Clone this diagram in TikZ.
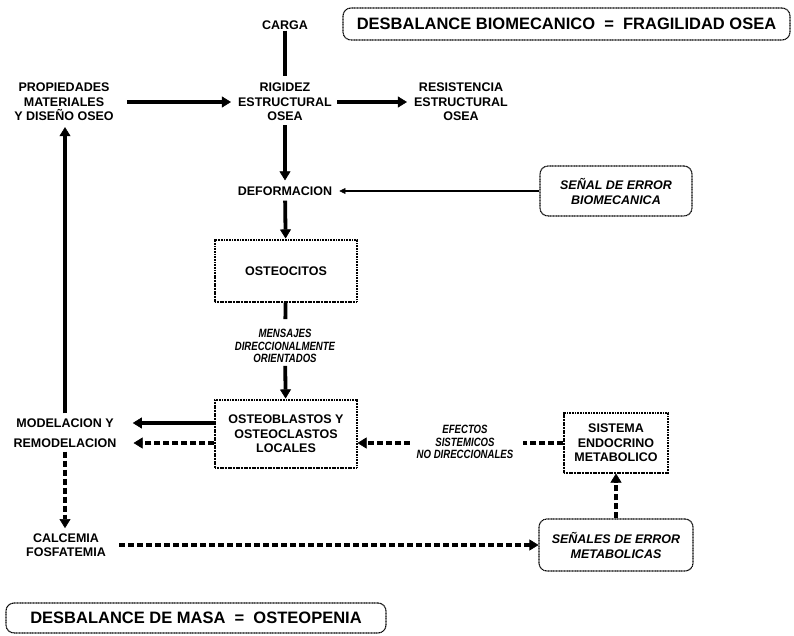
\documentclass[tikz,border=0pt]{standalone}
\usepackage{fontspec}
\setmainfont{Liberation Sans}
\newfontfamily\narrowfont[FakeStretch=0.8]{Liberation Sans}
\usetikzlibrary{arrows.meta}

\begin{document}
\begin{tikzpicture}[x=1pt,y=-1pt,
  txt/.style={font=\fontsize{12.5}{14.5}\selectfont\bfseries, align=center, inner sep=1pt},
  itx/.style={font=\fontsize{12.5}{15}\selectfont\bfseries\itshape, align=center, inner sep=1pt},
  nrw/.style={font=\narrowfont\fontsize{12}{12.5}\selectfont\bfseries\itshape, align=center, inner sep=1pt},
  head/.style={font=\fontsize{16.5}{18}\selectfont\bfseries, align=center},
  dotbox/.style={draw, line width=1.1pt, dash pattern=on 1.1pt off 0.5pt},
  sqbox/.style={dotbox, inner sep=0pt},
  rbox/.style={dotbox, rounded corners=8pt, inner sep=0pt},
  big/.style={line width=3.8pt},
  tip/.style={-{Triangle[length=9pt,width=11pt,line width=0.6pt]}},
  dsh/.style={line width=3.8pt, dash pattern=on 6pt off 3pt},
  fine/.style={line width=1.4pt, -{Triangle[length=6pt,width=6pt,line width=0.4pt]}}
]
\useasboundingbox (0,0) rectangle (794,636);

% headline boxes
\node[head, rbox, minimum width=447pt, minimum height=32pt] (fragil) at (566.5,24)
  {DESBALANCE BIOMECANICO \ = \ FRAGILIDAD OSEA};
\node[head, rbox, minimum width=380pt, minimum height=30pt] (masa) at (196,618)
  {DESBALANCE DE MASA \ = \ OSTEOPENIA};

% mechanical chain
\node[txt] (carga) at (285,25) {CARGA};
\node[txt] (rigidez) at (285,102) {RIGIDEZ\\ESTRUCTURAL\\OSEA};
\node[txt] (prop) at (64,102) {PROPIEDADES\\MATERIALES\\Y DISEÑO OSEO};
\node[txt] (resist) at (461,102) {RESISTENCIA\\ESTRUCTURAL\\OSEA};
\node[txt] (deform) at (285,191) {DEFORMACION};
\node[itx, rbox, minimum width=152pt, minimum height=50pt] (senal) at (616,191)
  {SEÑAL DE ERROR\\BIOMECANICA};
\node[txt, sqbox, minimum width=142pt, minimum height=62pt] (osteoc) at (286,271) {OSTEOCITOS};
\node[nrw] (mensajes) at (285,346) {MENSAJES\\DIRECCIONALMENTE\\ORIENTADOS};
\node[txt, sqbox, minimum width=142pt, minimum height=68pt] (osteob) at (286,434)
  {OSTEOBLASTOS Y\\OSTEOCLASTOS\\LOCALES};

% remodelling and metabolic loop
\node[txt] (model) at (65,423) {MODELACION Y};
\node[txt] (remodel) at (65,443) {REMODELACION};
\node[txt] (calc) at (66,545) {CALCEMIA\\FOSFATEMIA};
\node[txt, sqbox, minimum width=104pt, minimum height=60pt] (sistema) at (616,443)
  {SISTEMA\\ENDOCRINO\\METABOLICO};
\node[itx, rbox, minimum width=154pt, minimum height=52pt] (senales) at (616,545)
  {SEÑALES DE ERROR\\METABOLICAS};
\node[nrw] (efectos) at (465,442) {EFECTOS\\SISTEMICOS\\NO DIRECCIONALES};

% connectors
\draw[big, shorten >=6pt] (carga) -- (rigidez);
\draw[big, tip, shorten <=12pt, shorten >=6pt] (prop) -- (rigidez);
\draw[big, tip, shorten <=4pt, shorten >=6pt] (rigidez) -- (resist);
\draw[big, tip, shorten <=3pt, shorten >=5pt] (rigidez) -- (deform);
\draw[fine, shorten >=6pt] (senal) -- (deform);
\draw[big, tip, shorten <=4pt, shorten >=1pt] (deform) -- (osteoc);
\draw[big, shorten >=9pt] (osteoc) -- (mensajes);
\draw[big, tip, shorten <=2pt, shorten >=1pt] (mensajes) -- (osteob);
\draw[big, tip, shorten >=18pt] (osteob.west |- model) -- (model);
\draw[dsh, tip, shorten >=16pt] (osteob.west |- remodel) -- (remodel);
\draw[dsh, shorten >=9pt] (sistema.west) -- (efectos.east |- sistema.west);
\draw[dsh, tip, shorten <=6pt] (efectos.west |- sistema.west) -- (osteob.east |- sistema.west);
\draw[big, tip, shorten <=4pt, shorten >=5pt] (model.north) -- (model.north |- prop.south);
\draw[dsh, tip, shorten <=3pt, shorten >=4pt] (remodel.south) -- (remodel.south |- calc.north);
\draw[dsh, tip, shorten <=12pt] (calc) -- (senales);
\draw[dsh, tip] (senales) -- (sistema);
\end{tikzpicture}
\end{document}
